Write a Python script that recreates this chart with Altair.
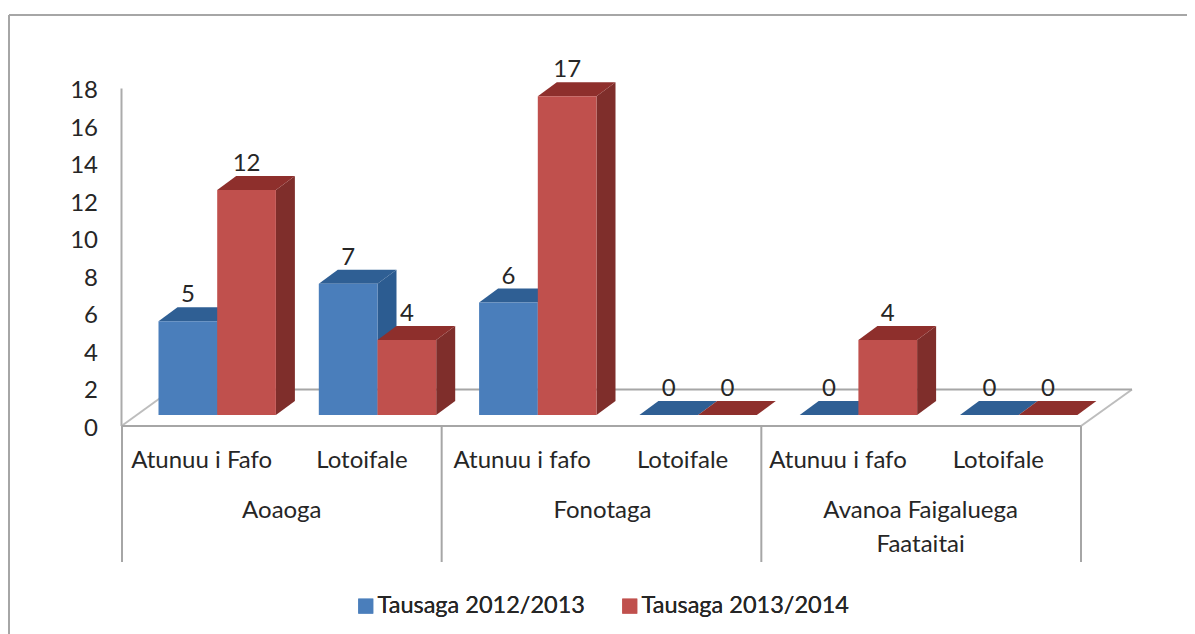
import altair as alt
import pandas as pd

# ---- values
group_names = ["Aoaoga", "Fonotaga", "Avanoa Faigaluega|Faataitai"]
sub_names = ["Atunuu i Fafo", "Lotoifale", "Atunuu i fafo", "Lotoifale", "Atunuu i fafo", "Lotoifale"]
series_names = ["Tausaga 2012/2013", "Tausaga 2013/2014"]
values_2012 = [5, 7, 6, 0, 0, 0]
values_2013 = [12, 4, 17, 0, 4, 0]
y_ticks = [0, 2, 4, 6, 8, 10, 12, 14, 16, 18]

# ---- page geometry (pixels in the screenshot)
PLOT_L, PLOT_T, PLOT_R, PLOT_B = 8, 12, 1187, 640
AX_X, PX_PER_CAT = 121.5, 160.3
BASE_Y, PX_PER_UNIT = 415.0, 18.75
LABEL_DROP = 13
DX, DY = 19 / PX_PER_CAT, 14 / PX_PER_UNIT
BAR_W = 58.7 / PX_PER_CAT
BAR_PAD = (158.5 - AX_X) / PX_PER_CAT
FONT = "Lato"
FS = 24
TXT = "#262626"


def xv(px):
    return (px - AX_X) / PX_PER_CAT


def yv(py):
    return (BASE_Y - py) / PX_PER_UNIT


x_scale = alt.Scale(domain=[xv(PLOT_L), xv(PLOT_R)], nice=False, zero=False)
y_scale = alt.Scale(domain=[yv(PLOT_B), yv(PLOT_T)], nice=False, zero=False)
color_scale = alt.Scale(domain=series_names, range=["#4A7EBB", "#C0504D"])
y_axis = alt.Axis(
    values=y_ticks, title=None, grid=False, domain=False, ticks=False,
    offset=-(AX_X - PLOT_L), labelPadding=24, labelOffset=LABEL_DROP,
    labelFont=FONT, labelFontSize=FS, labelColor=TXT, labelOverlap=False,
    labelBaseline="middle")

X = lambda f: alt.X(f, type="quantitative", scale=x_scale, axis=None)
Y = lambda f: alt.Y(f, type="quantitative", scale=y_scale, axis=y_axis)


# ---- faces of the bars: one small layer per face
def bar_layers(s, vals, side_col, top_col):
    out, fronts = [], []
    for i, v in enumerate(vals):
        x0 = i + BAR_PAD + s * BAR_W
        x1 = x0 + BAR_W
        if v > 0:
            side = pd.DataFrame({"x": [x1, x1 + DX], "y": [0, DY], "y2": [v, v + DY]})
            out.append(alt.Chart(side).mark_area(color=side_col, opacity=1).encode(
                x=X("x"), y=Y("y"), y2="y2"))
        top = pd.DataFrame({"y": [v, v + DY], "x": [x0, x0 + DX], "x2": [x1, x1 + DX]})
        out.append(alt.Chart(top).mark_area(color=top_col, orient="horizontal", opacity=1).encode(
            y=Y("y"), x=X("x"), x2="x2"))
        fronts.append({"x": x0, "x2": x1, "y": 0, "y2": v, "series": series_names[s]})
    out.append(alt.Chart(pd.DataFrame(fronts)).mark_rect().encode(
        x=X("x"), x2="x2", y=Y("y"), y2="y2",
        color=alt.Color("series:N", scale=color_scale, sort=series_names, legend=alt.Legend(
            title=None, orient="none", direction="horizontal",
            legendX=354 - PLOT_L, legendY=594 - PLOT_T, padding=0,
            symbolType="square", symbolSize=225, symbolStrokeWidth=0,
            labelFont=FONT, labelFontSize=23.5, labelColor=TXT, labelLimit=400,
            columnPadding=33, labelOffset=0))))
    return out


# ---- walls, floor, frame and the axis separators
lines = []
fy, by = yv(426), yv(389.5)
wall_top = 18 + yv(426)
for a in [
    (0, fy, 0, wall_top, "#ABABAB"),
    (0, fy, xv(172), by, "#BDBDBD"),
    (0, fy, xv(1081), fy, "#A6A6A6"),
    (xv(1081), fy, xv(1132), by, "#BDBDBD"),
    (xv(172), by, xv(1132), by, "#A6A6A6"),
    (xv(9), yv(15), xv(1187), yv(15), "#A6A6A6"),
    (xv(9), yv(15), xv(9), yv(640), "#A6A6A6"),
]:
    lines.append({"x": a[0], "y": a[1], "x2": a[2], "y2": a[3], "c": a[4]})
for sx in [0, 2, 4, 6]:
    sep = xv(122) + sx * (1081 - 122) / 6 / PX_PER_CAT
    lines.append({"x": sep, "y": fy, "x2": sep, "y2": yv(562), "c": "#A6A6A6"})
line_layer = alt.Chart(pd.DataFrame(lines)).mark_rule(strokeWidth=2).encode(
    x=X("x"), y=Y("y"), x2="x2", y2="y2", color=alt.Color("c:N", scale=None, legend=None))

# ---- text layers
labels = []
for s, vals in enumerate([values_2012, values_2013]):
    for i, v in enumerate(vals):
        labels.append({"x": i + BAR_PAD + (s + 0.5) * BAR_W, "y": v + yv(BASE_Y - 26), "t": str(v)})
sub_df = pd.DataFrame({"x": [0.5, 1.5, 2.5, 3.5, 4.47, 5.47], "t": sub_names, "y": [yv(460.5)] * 6})
rows = []
for g, name in enumerate(group_names):
    for k, p in enumerate(name.split("|")):
        rows.append({"x": 2 * g + 1 - (0.015 if g == 2 else 0), "t": p, "y": yv(511 + 34 * k)})
txt = lambda df: alt.Chart(df).mark_text(
    font=FONT, fontSize=FS, color=TXT, align="center", baseline="middle").encode(
    x=X("x"), y=Y("y"), text="t:N")

chart = alt.layer(
    line_layer,
    *bar_layers(0, values_2012, "#2C5C91", "#2F5F94"),
    *bar_layers(1, values_2013, "#7F2E2B", "#8E2F2C"),
    txt(pd.DataFrame(labels)), txt(sub_df), txt(pd.DataFrame(rows)),
).resolve_scale(color="independent").properties(
    width=PLOT_R - PLOT_L, height=PLOT_B - PLOT_T,
    padding={"left": PLOT_L - 8, "top": PLOT_T - 8, "right": 0, "bottom": 0},
    autosize=alt.AutoSizeParams(type="none"),
).configure_view(stroke=None)

chart.save("out.html", embed_options={"renderer": "svg", "actions": False})
